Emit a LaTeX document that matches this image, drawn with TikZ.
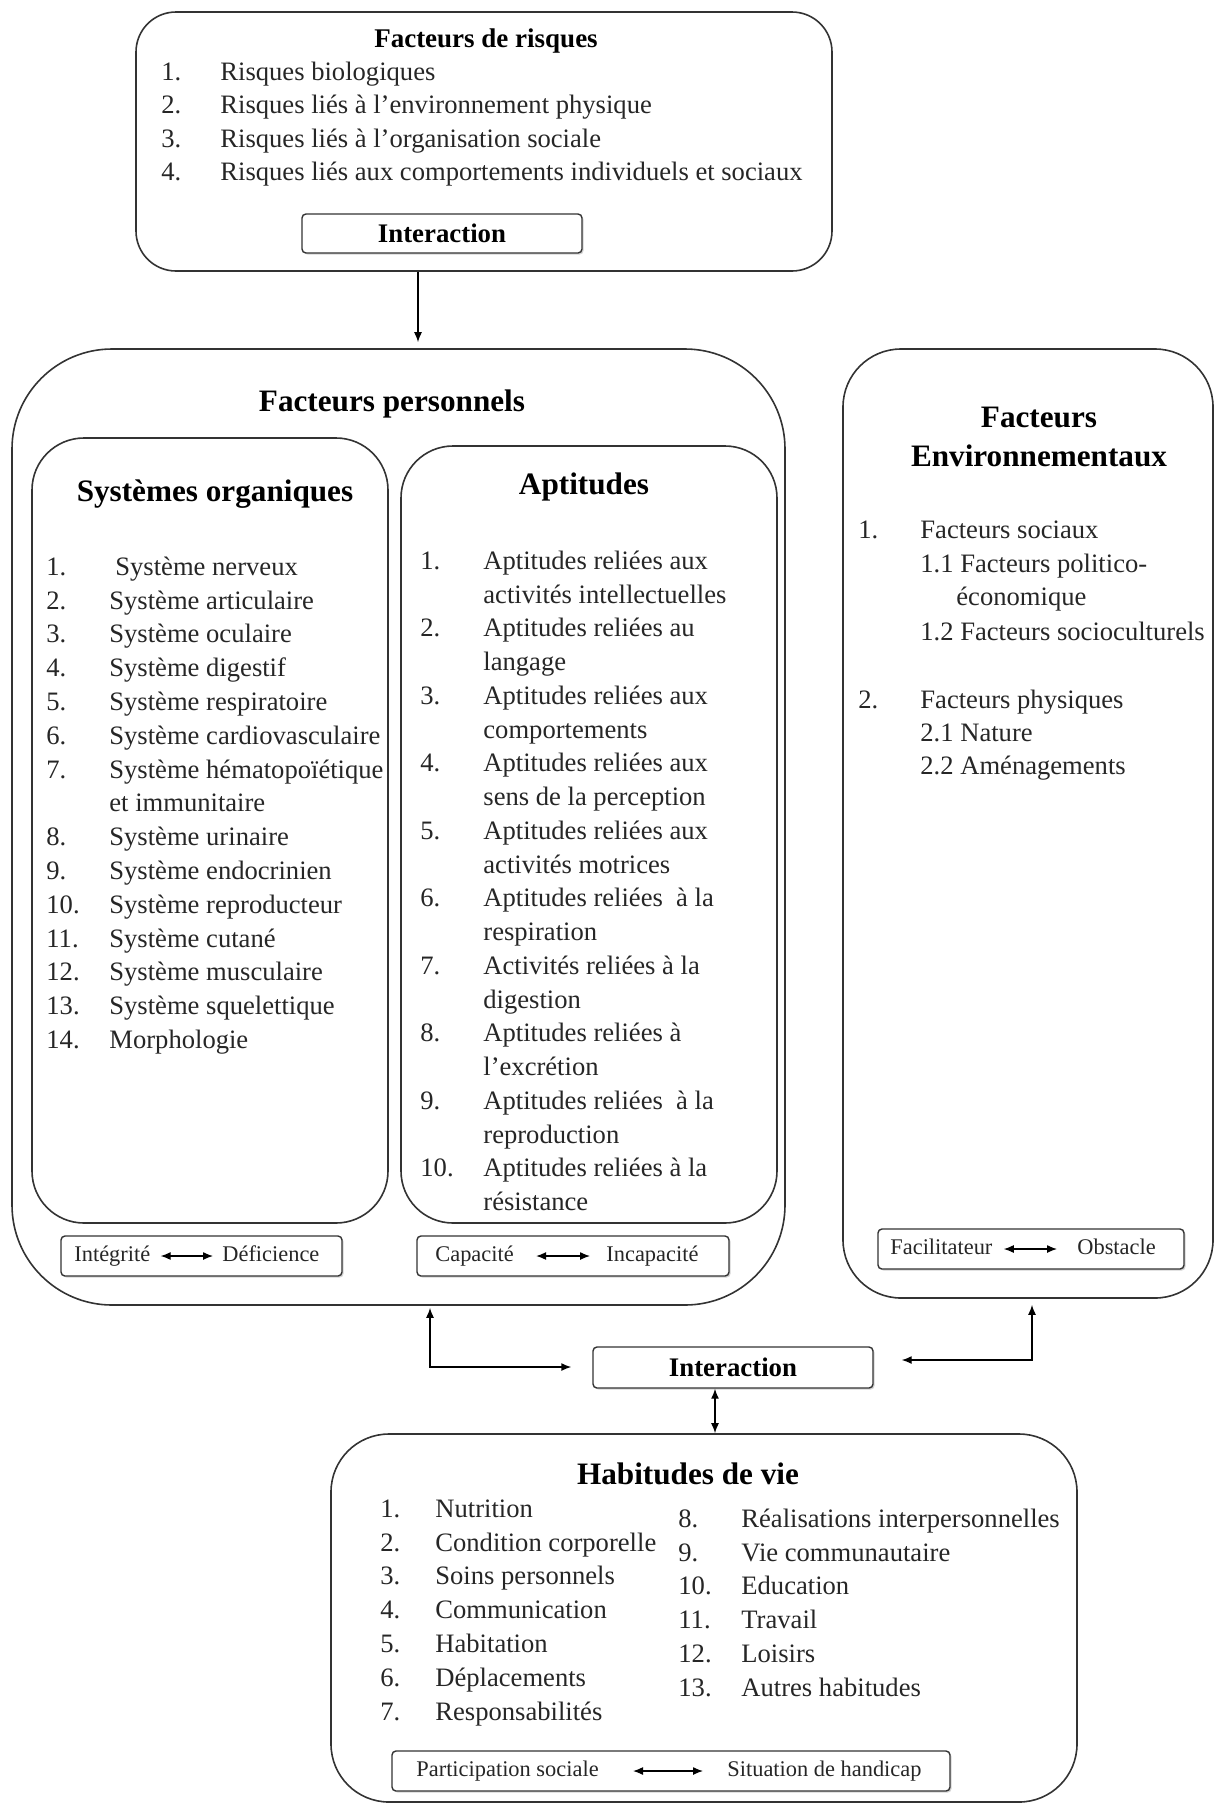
\documentclass[tikz,border=0pt]{standalone}
\usepackage{fontspec}
\setmainfont{Liberation Serif}
\usetikzlibrary{arrows.meta,shadows}
\newcommand{\myfs}[1]{\fontsize{#1}{#1}\selectfont}
\begin{document}
\begin{tikzpicture}[x=0.5pt,y=-0.5pt,
  bigbox/.style={draw=black!80,line width=0.8pt,rounded corners=#1,inner sep=0},
  smallbox/.style={draw=black!80,line width=0.7pt,rounded corners=2pt,inner sep=0,fill=white,
     drop shadow={shadow xshift=0.8pt,shadow yshift=-0.8pt,opacity=0.35}},
  item/.style={anchor=west,inner sep=0,font=\myfs{13.3},text height=1.6ex,text depth=0.45ex,text=black!85},
  small/.style={anchor=west,inner sep=0,font=\myfs{11.2},text height=1.6ex,text depth=0.45ex,text=black!85},
  headA/.style={inner sep=0,font=\bfseries\myfs{15.6}},
  headB/.style={inner sep=0,font=\bfseries\myfs{13.5}},
  arr/.style={-{Latex[length=5pt,width=4pt]},line width=0.7pt},
  darr/.style={{Latex[length=5pt,width=4pt]}-{Latex[length=5pt,width=4pt]},line width=0.7pt}
]
\useasboundingbox (0,0) rectangle (1215,1805);

% ---------- Facteurs de risques ----------
\node[bigbox=20pt,minimum width=348pt,minimum height=129.5pt] (risk) at (484,141.5) {};
\node[headB] (riskT) at (486,41) {Facteurs de risques};
\foreach \k/\n/\t in {0/1./Risques biologiques,1/2./Risques liés à l’environnement physique,
  2/3./Risques liés à l’organisation sociale,3/4./Risques liés aux comportements individuels et sociaux}{
  \node[item] (rn\k) at (161,{75+33.5*\k}) {\n};
  \node[item] (rt\k) at (220,{75+33.5*\k}) {\t};
}
\node[smallbox,minimum width=140pt,minimum height=19.5pt,font=\bfseries\myfs{13.4}] (int1) at (442,233.5) {Interaction};

% ---------- Facteurs personnels ----------
\node[bigbox=50pt,minimum width=386.5pt,minimum height=478pt] (fp) at (398.5,827) {};
\node[headA] (fpT) at (392,404) {Facteurs personnels};

\node[bigbox=26pt,minimum width=178pt,minimum height=392.5pt] (so) at (210,830.5) {};
\node[headA] (soT) at (215,494) {Systèmes organiques};
\node[item] (son0) at (46,570) {1.};
\node[item] (sot0) at (115,570) {Système nerveux};
\foreach \k/\n/\t in {1/2./Système articulaire,2/3./Système oculaire,3/4./Système digestif,
  4/5./Système respiratoire,5/6./Système cardiovasculaire,6/7./Système hématopoïétique,
  8/8./Système urinaire,9/9./Système endocrinien,10/10./Système reproducteur,
  11/11./Système cutané,12/12./Système musculaire,13/13./Système squelettique,14/14./Morphologie}{
  \node[item] (son\k) at (46,{570+33.8*\k}) {\n};
  \node[item] (sot\k) at (109,{570+33.8*\k}) {\t};
}
\node[item] (sot7) at (109,{570+33.8*7}) {et immunitaire};

\node[bigbox=26pt,minimum width=188pt,minimum height=388.5pt] (ap) at (589,834.5) {};
\node[headA] (apT) at (584,487) {Aptitudes};
\foreach \k/\n/\t/\u in {0/1./Aptitudes reliées aux/activités intellectuelles,
  2/2./Aptitudes reliées au/langage,
  4/3./Aptitudes reliées aux/comportements,
  6/4./Aptitudes reliées aux/sens de la perception,
  8/5./Aptitudes reliées aux/activités motrices,
  10/6./Aptitudes reliées \ à la/respiration,
  12/7./Activités reliées à la/digestion,
  14/8./Aptitudes reliées à/l’excrétion,
  16/9./Aptitudes reliées \ à la/reproduction,
  18/10./Aptitudes reliées à la/résistance}{
  \node[item] (apn\k) at (420,{564+33.75*\k}) {\n};
  \node[item] (apt\k) at (483,{564+33.75*\k}) {\t};
  \node[item] (apu\k) at (483,{564+33.75*(\k+1)}) {\u};
}

\node[smallbox,minimum width=140.5pt,minimum height=20pt] (integ) at (201.5,1256) {};
\node[small] (integL) at (74,1256) {Intégrité};
\node[small] (integR) at (222,1256) {Déficience};
\draw[darr,line width=0.6pt] ([xshift=5pt]integL.east) -- ([xshift=-4.5pt]integR.west);

\node[smallbox,minimum width=156pt,minimum height=20pt] (capac) at (573,1256) {};
\node[small] (capacL) at (435,1256) {Capacité};
\node[small] (capacR) at (606,1256) {Incapacité};
\draw[darr,line width=0.6pt] ([xshift=11pt]capacL.east) -- ([xshift=-8pt]capacR.west);

% ---------- Facteurs environnementaux ----------
\node[bigbox=29pt,minimum width=185pt,minimum height=474.5pt] (fe) at (1028,823.5) {};
\node[headA] (feT1) at (1039,417) {Facteurs};
\node[headA] (feT2) at (1039,456) {Environnementaux};
\node[item] (fen1) at (858,533) {1.};
\node[item] (fet1) at (920,533) {Facteurs sociaux};
\node[item] (fet11) at (920,567) {1.1 Facteurs politico-};
\node[item] (fet11b) at (956,600) {économique};
\node[item] (fet12) at (920,635) {1.2 Facteurs socioculturels};
\node[item] (fen2) at (858,703) {2.};
\node[item] (fet2) at (920,703) {Facteurs physiques};
\node[item] (fet21) at (920,736) {2.1 Nature};
\node[item] (fet22) at (920,769) {2.2 Aménagements};

\node[smallbox,minimum width=153pt,minimum height=20pt] (facil) at (1031,1249) {};
\node[small] (facilL) at (890,1249) {Facilitateur};
\node[small] (facilR) at (1077,1249) {Obstacle};
\draw[darr,line width=0.6pt] ([xshift=5.5pt]facilL.east) -- ([xshift=-10pt]facilR.west);

% ---------- Interaction (bottom) ----------
\node[smallbox,minimum width=140pt,minimum height=20.5pt,font=\bfseries\myfs{13.4}] (int2) at (733,1367.5) {Interaction};

% ---------- Habitudes de vie ----------
\node[bigbox=29pt,minimum width=373pt,minimum height=184pt] (hab) at (704,1618) {};
\node[headA] (habT) at (688,1474) {Habitudes de vie};
\foreach \k/\n/\t in {0/1./Nutrition,1/2./Condition corporelle,2/3./Soins personnels,
  3/4./Communication,4/5./Habitation,5/6./Déplacements,6/7./Responsabilités}{
  \node[item] (hln\k) at (380,{1512+33.8*\k}) {\n};
  \node[item] (hlt\k) at (435,{1512+33.8*\k}) {\t};
}
\foreach \k/\n/\t in {0/8./Réalisations interpersonnelles,1/9./Vie communautaire,2/10./Education,
  3/11./Travail,4/12./Loisirs,5/13./Autres habitudes}{
  \node[item] (hrn\k) at (678,{1522+33.8*\k}) {\n};
  \node[item] (hrt\k) at (741,{1522+33.8*\k}) {\t};
}
\node[smallbox,minimum width=279pt,minimum height=20pt] (partic) at (671,1771) {};
\node[small] (particL) at (416,1771) {Participation sociale};
\node[small] (particR) at (727,1771) {Situation de handicap};
\draw[darr,line width=0.6pt] ([xshift=17pt]particL.east) -- ([xshift=-12pt]particR.west);

% ---------- Connectors ----------
\coordinate (ta) at (418,300);
\draw[arr] (risk.south -| ta) -- ([yshift=3pt]fp.north -| ta);

\coordinate (la) at (430,1367);
\draw[darr] ([yshift=-1pt]fp.south -| la) -- (la) -- ([xshift=-10.5pt]int2.west |- la);

\coordinate (ra) at (1032,1360);
\draw[darr] ([xshift=14pt]int2.east |- ra) -- (ra) -- ([yshift=-3pt]fe.south -| ra);

\coordinate (va) at (715,1410);
\draw[darr] (int2.south -| va) -- (hab.north -| va);
\end{tikzpicture}
\end{document}
